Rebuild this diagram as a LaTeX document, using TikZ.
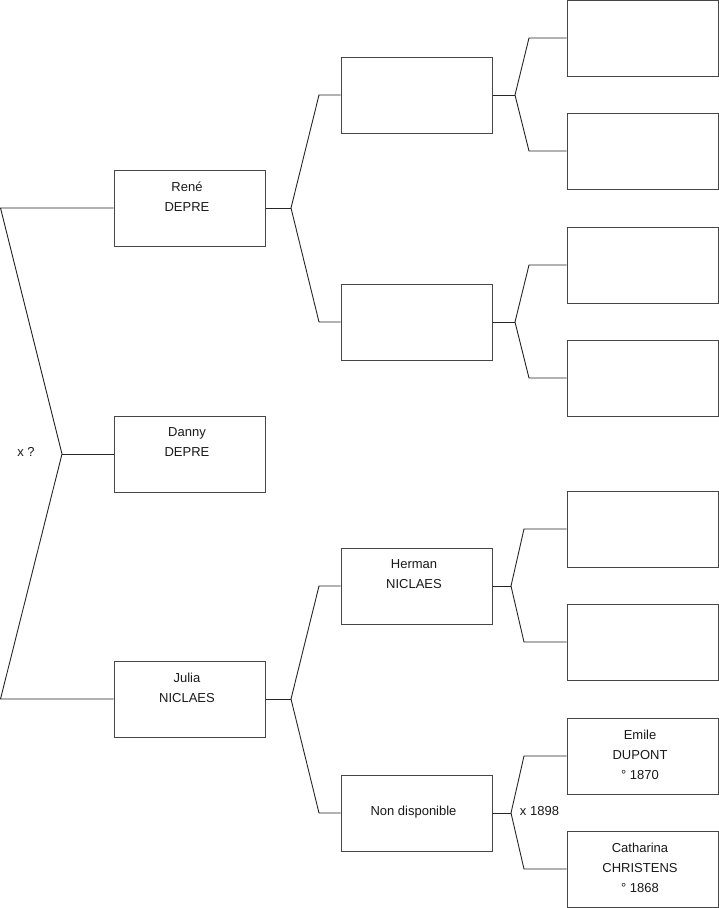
\documentclass[tikz,border=0pt]{standalone}
\usepackage{fontspec}
\setmainfont{Liberation Sans}
\begin{document}
\begin{tikzpicture}[x=1pt,y=-1pt,
  box/.style={draw=black!72, line width=1pt, minimum width=151pt, minimum height=76pt,
    inner sep=0pt},
  txt/.style={align=center, inner sep=0pt, font=\fontsize{13}{20}\selectfont, text=black!90},
  link/.style={draw=black!85, line width=0.9pt},
  lbl/.style={font=\fontsize{13}{20}\selectfont, text=black!90, inner sep=0pt}]
\useasboundingbox (0,0) rectangle (719,908);
% column 1
\node[box] (rene)  at (189.5,208) {};
\node[box] (danny) at (189.5,454) {};
\node[box] (julia) at (189.5,699) {};
% column 2
\node[box] (b1) at (416.5,95) {};
\node[box] (b2) at (416.5,322) {};
\node[box] (herman) at (416.5,586) {};
\node[box] (nd) at (416.5,813) {};
% column 3
\node[box] (c1) at (642.5,38) {};
\node[box] (c2) at (642.5,151) {};
\node[box] (c3) at (642.5,265) {};
\node[box] (c4) at (642.5,378) {};
\node[box] (c5) at (642.5,529) {};
\node[box] (c6) at (642.5,642) {};
\node[box] (emile) at (642.5,756) {};
\node[box] (cath) at (642.5,869) {};
% texts
\node[txt] (trene)  at ([xshift=-2.5pt,yshift=1.5pt]rene.center)  {René\\DEPRE\\\mbox{}};
\node[txt] (tdanny) at ([xshift=-2.5pt,yshift=1.5pt]danny.center) {Danny\\DEPRE\\\mbox{}};
\node[txt] (tjulia) at ([xshift=-2.5pt,yshift=1.5pt]julia.center) {Julia\\NICLAES\\\mbox{}};
\node[txt] (therman) at ([xshift=-2.5pt,yshift=1.5pt]herman.center) {Herman\\NICLAES\\\mbox{}};
\node[txt] (tnd) at ([xshift=-3pt,yshift=0.5pt]nd.center) {Non disponible};
\node[txt] (temile) at ([xshift=-2.5pt,yshift=1.5pt]emile.center) {Emile\\DUPONT\\° 1870};
\node[txt] (tcath) at ([xshift=-2.5pt,yshift=1.5pt]cath.center) {Catharina\\CHRISTENS\\° 1868};
% root connector
\coordinate (ra) at (0.5,208);
\coordinate (rj) at (62,454);
\coordinate (rb) at (0.5,699);
\draw[link] (rene.west) -- (ra) -- (rj) -- (rb) -- (julia.west);
\draw[link] (rj) -- (danny.west);
\node[lbl] (xq) at (26,452) {x ?};
% rene
\coordinate (j1) at (291,208);
\draw[link] (rene.east) -- (j1);
\draw[link] (j1) -- (319,95) -- (b1.west);
\draw[link] (j1) -- (319,322) -- (b2.west);
% julia
\coordinate (j2) at (291,699);
\draw[link] (julia.east) -- (j2);
\draw[link] (j2) -- (319,586) -- (herman.west);
\draw[link] (j2) -- (319,813) -- (nd.west);
% b1
\coordinate (j3) at (515,95);
\draw[link] (b1.east) -- (j3);
\draw[link] (j3) -- (529,38) -- (c1.west);
\draw[link] (j3) -- (529,151) -- (c2.west);
% b2
\coordinate (j4) at (515,322);
\draw[link] (b2.east) -- (j4);
\draw[link] (j4) -- (529,265) -- (c3.west);
\draw[link] (j4) -- (529,378) -- (c4.west);
% herman
\coordinate (j5) at (511,586);
\draw[link] (herman.east) -- (j5);
\draw[link] (j5) -- (524,529) -- (c5.west);
\draw[link] (j5) -- (524,642) -- (c6.west);
% non disponible
\coordinate (j6) at (511,813);
\draw[link] (nd.east) -- (j6);
\draw[link] (j6) -- (524,756) -- (emile.west);
\draw[link] (j6) -- (524,869) -- (cath.west);
\node[lbl] (x1898) at (539.5,811) {x 1898};
\end{tikzpicture}
\end{document}
